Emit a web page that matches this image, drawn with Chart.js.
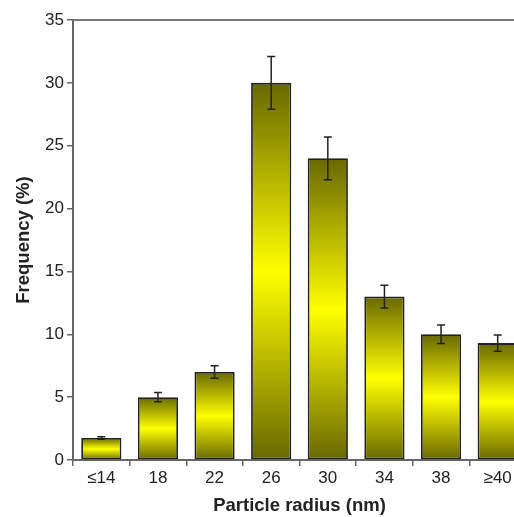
<!DOCTYPE html>
<html>
<head>
<meta charset="utf-8">
<script src="https://cdn.jsdelivr.net/npm/chart.js@4.4.1/dist/chart.umd.min.js"></script>
<style>
  html, body { margin: 0; padding: 0; background: #fff; overflow: hidden; }
  #wrap { width: 526px; height: 517px; }
</style>
</head>
<body>
<div id="wrap"><canvas id="chart"></canvas></div>
<script>
// ===== Data =====
const radiusLabels = ['\u226414', '18', '22', '26', '30', '34', '38', '\u226540'];
const frequency = [1.75, 5.0, 7.0, 30.0, 24.0, 13.0, 10.0, 9.3];
const frequencyError = [0.1, 0.37, 0.5, 2.1, 1.7, 0.9, 0.73, 0.65];

const FONT = '"Liberation Sans", Arial, sans-serif';

// ===== Vertical gradient per bar: dark olive - yellow - dark olive =====
function barGradient(ctx) {
    const chart = ctx.chart;
    const area = chart.chartArea;
    if (!area) return '#cccc00';
    const y = chart.scales.y;
    const top = y.getPixelForValue(frequency[ctx.dataIndex]);
    const bottom = y.getPixelForValue(0);
    const g = chart.ctx.createLinearGradient(0, top, 0, bottom);
    g.addColorStop(0, '#686800');
    g.addColorStop(0.5, '#ffff00');
    g.addColorStop(1, '#686800');
    return g;
}

// ===== Error bars + top frame line =====
const extras = {
    id: 'extras',
    afterDatasetsDraw(chart) {
        const c = chart.ctx;
        const y = chart.scales.y;
        const meta = chart.getDatasetMeta(0);
        c.save();
        c.strokeStyle = '#222';
        c.lineWidth = 1.5;
        meta.data.forEach((bar, i) => {
            const hi = y.getPixelForValue(frequency[i] + frequencyError[i]);
            const lo = y.getPixelForValue(frequency[i] - frequencyError[i]);
            c.beginPath();
            c.moveTo(bar.x, hi); c.lineTo(bar.x, lo);
            c.moveTo(bar.x - 4, hi); c.lineTo(bar.x + 4, hi);
            c.moveTo(bar.x - 4, lo); c.lineTo(bar.x + 4, lo);
            c.stroke();
        });
        const a = chart.chartArea;
        c.strokeStyle = '#777';
        c.lineWidth = 2;
        c.beginPath();
        c.moveTo(a.left, a.top); c.lineTo(a.right, a.top);
        c.stroke();
        c.restore();
    }
};

new Chart(document.getElementById('chart'), {
    type: 'bar',
    data: {
        labels: radiusLabels,
        datasets: [{
            data: frequency,
            backgroundColor: barGradient,
            borderColor: '#222',
            borderWidth: 1.8,
            borderSkipped: false,
            categoryPercentage: 1.0,
            barPercentage: 0.71
        }]
    },
    options: {
        responsive: true,
        maintainAspectRatio: false,
        animation: false,
        layout: { padding: { top: 20, left: 0, right: 0, bottom: 0 } },
        plugins: { legend: { display: false }, tooltip: { enabled: false } },
        scales: {
            x: {
                afterFit: s => { s.height = 57; },
                grid: { drawOnChartArea: false, tickLength: 6, color: '#666', lineWidth: 1.5, offset: true },
                border: { color: '#666', width: 2 },
                ticks: { color: '#222', font: { family: FONT, size: 17 }, padding: 2 },
                title: {
                    display: true, text: 'Particle radius (nm)', color: '#222',
                    font: { family: FONT, size: 18.5, weight: 'bold' },
                    padding: { top: 0, bottom: 0 }
                }
            },
            y: {
                min: 0, max: 35,
                afterFit: s => { s.width = 73; },
                grid: { drawOnChartArea: false, tickLength: 6, color: '#666', lineWidth: 1.5 },
                border: { color: '#666', width: 2 },
                ticks: { stepSize: 5, color: '#222', font: { family: FONT, size: 17 }, padding: 3 },
                title: {
                    display: true, text: 'Frequency (%)', color: '#222',
                    font: { family: FONT, size: 18.5, weight: 'bold' },
                    padding: { top: 13, bottom: 0 }
                }
            }
        }
    },
    plugins: [extras]
});
</script>
</body>
</html>
